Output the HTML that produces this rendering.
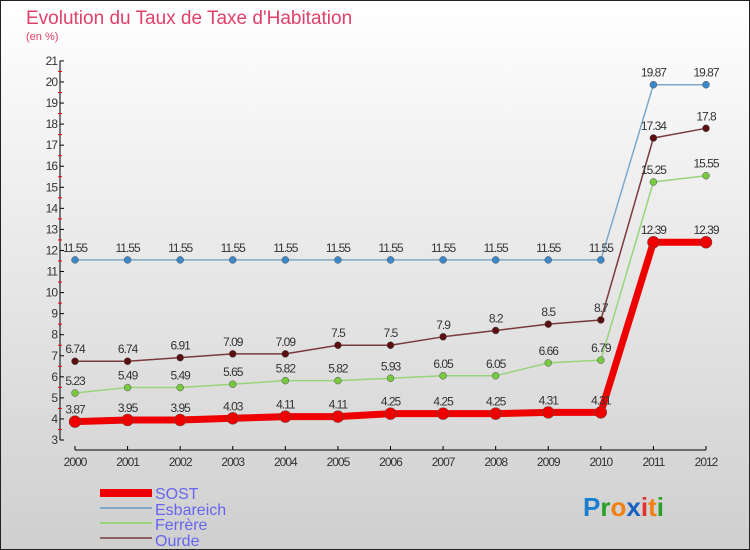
<!DOCTYPE html>
<html><head><meta charset="utf-8"><style>
body{margin:0;width:750px;height:550px;overflow:hidden;font-family:"Liberation Sans",sans-serif}
svg{display:block}
</style></head><body>
<svg id="c" width="750" height="550" xmlns="http://www.w3.org/2000/svg">
<defs><linearGradient id="bg" x1="0" y1="0" x2="0" y2="1"><stop offset="0" stop-color="#ffffff"/><stop offset="1" stop-color="#cfcfcf"/></linearGradient></defs>
<rect x="0.5" y="0.5" width="749" height="549" fill="url(#bg)" stroke="#222"/>
<text x="26" y="24" font-size="19" fill="#e0406a">Evolution du Taux de Taxe d'Habitation</text>
<text x="26" y="40" font-size="11" fill="#e0406a">(en %)</text>
<g id="axes"></g><g id="series"></g>
<g>
<rect x="100" y="489" width="52" height="8" fill="#ee0000"/>
<text x="155" y="499" font-size="16" fill="#6666ee">SOST</text>
<line x1="100" y1="508" x2="152" y2="508" stroke="#7fa8c8" stroke-width="2"/>
<text x="155" y="515" font-size="16" fill="#6666ee">Esbareich</text>
<line x1="100" y1="523" x2="152" y2="523" stroke="#98d47a" stroke-width="2"/>
<text x="155" y="530" font-size="16" fill="#6666ee">Ferrère</text>
<line x1="100" y1="538" x2="152" y2="538" stroke="#8a6060" stroke-width="2"/>
<text x="155" y="546" font-size="16" fill="#6666ee">Ourde</text>
</g>
<g font-size="26" font-weight="bold">
<text x="583" y="516"><tspan fill="#1a7fd0">P</tspan><tspan fill="#2aa02a">r</tspan><tspan fill="#f08010">o</tspan><tspan fill="#1a60c0">x</tspan><tspan fill="#e03030">i</tspan><tspan fill="#f08010">t</tspan><tspan fill="#2aa02a">i</tspan></text>
</g>
</svg>
<script>
const years=[2000,2001,2002,2003,2004,2005,2006,2007,2008,2009,2010,2011,2012];
const sost=[3.87,3.95,3.95,4.03,4.11,4.11,4.25,4.25,4.25,4.31,4.31,12.39,12.39];
const esbareich=[11.55,11.55,11.55,11.55,11.55,11.55,11.55,11.55,11.55,11.55,11.55,19.87,19.87];
const ferrere=[5.23,5.49,5.49,5.65,5.82,5.82,5.93,6.05,6.05,6.66,6.79,15.25,15.55];
const ourde=[6.74,6.74,6.91,7.09,7.09,7.5,7.5,7.9,8.2,8.5,8.7,17.34,17.8];
const yTicks=[3,4,5,6,7,8,9,10,11,12,13,14,15,16,17,18,19,20,21];
const NS="http://www.w3.org/2000/svg";
const xS=i=>75+i*(706-75)/(years.length-1);
const yS=v=>440-(v-3)*21.06;
function mk(t,a,p){const e=document.createElementNS(NS,t);for(const k in a)e.setAttribute(k,a[k]);p.appendChild(e);return e;}
const ax=document.getElementById('axes');
const yl=mk('line',{x1:60,y1:yS(21),x2:60,y2:yS(3),stroke:'#000'},ax);


yTicks.forEach(v=>{
 mk('line',{x1:60,y1:yS(v),x2:64,y2:yS(v),stroke:'#000'},ax);
 if(v<21)mk('line',{x1:58,y1:yS(v+0.5),x2:62,y2:yS(v+0.5),stroke:'#e00'},ax);
 const t=mk('text',{x:57,y:yS(v)+4,'text-anchor':'end','font-size':12,fill:'#333','letter-spacing':'-1'},ax);
 t.textContent=v;
 
 
});
const xl=mk('line',{x1:xS(0),y1:450,x2:xS(years.length-1),y2:450,stroke:'#000'},ax);


years.forEach((y,i)=>{
 mk('line',{x1:xS(i),y1:446,x2:xS(i),y2:450,stroke:'#000'},ax);
 const t=mk('text',{x:xS(i),y:466,'text-anchor':'middle','font-size':12,fill:'#333','letter-spacing':'-1'},ax);
 t.textContent=y;
 
 
});
const sg=document.getElementById('series');
function draw(name,vals,color,dot,w,r){
 const g=mk('g',{},sg);
 
 
 const pl=mk('polyline',{points:vals.map((v,i)=>xS(i)+','+yS(v)).join(' '),fill:'none',stroke:color,'stroke-width':w,'stroke-linejoin':'round'},g);
 
 
 vals.forEach((v,i)=>{
  const c=mk('circle',{cx:xS(i),cy:yS(v),r:r,fill:dot,stroke:'#555','stroke-width':0.5},g);
  
  
  const t=mk('text',{x:xS(i),y:yS(v)-8,'text-anchor':'middle','font-size':12,fill:'#333','letter-spacing':'-1'},g);
  t.textContent=v;
  
  
 });
}
draw('esbareich',esbareich,'#7fa8c8','#3a88c8',1.5,3.5);
draw('ourde',ourde,'#7a3a3a','#5a1010',1.5,3.5);
draw('ferrere',ferrere,'#98d47a','#78c840',1.5,3.5);
draw('sost',sost,'#ee0000','#ee0000',7,6);
</script>
</body></html>
